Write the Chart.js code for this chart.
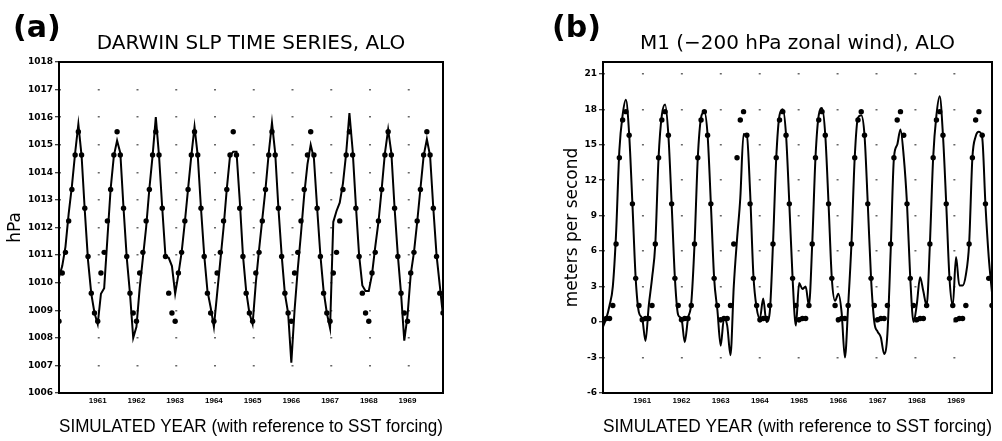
<!DOCTYPE html>
<html>
<head>
<meta charset="utf-8">
<script src="https://cdn.jsdelivr.net/npm/chart.js@4.4.1/dist/chart.umd.min.js"></script>
<style>
    body { margin: 0; background: #fff; }
    #wrap { position: relative; width: 1002px; height: 441px; overflow: hidden; }
    canvas { position: absolute; top: 0; }
    #slp-chart { left: 0; }
    #wind-chart { left: 500px; }
    .panel-tag { position: absolute; top: 12px; font: bold 30px "DejaVu Sans", sans-serif; line-height: 30px; color: #000; }
</style>
</head>
<body>
<div id="wrap">
    <canvas id="slp-chart" width="500" height="441"></canvas>
    <canvas id="wind-chart" width="502" height="441"></canvas>
    <div class="panel-tag" style="left:13px">(a)</div>
    <div class="panel-tag" style="left:552px">(b)</div>
</div>
<script>
// simulated years, one value per month (Jan..Dec)
const years = [1960, 1961, 1962, 1963, 1964, 1965, 1966, 1967, 1968, 1969];

// (a) Darwin SLP, hPa - model run
const slpModel = [
    1010.2, 1010.6, 1011.3, 1012.5, 1013.5, 1014.7, 1015.75, 1014.6, 1012.6, 1010.8, 1009.6, 1008.9,  // 1960
    1008.5, 1009.6, 1009.8, 1011.6, 1013.4, 1014.6, 1015.15, 1014.7, 1012.7, 1010.9, 1009.6, 1008.0,  // 1961
    1008.4, 1009.8, 1010.9, 1012.0, 1013.4, 1014.6, 1016.0, 1014.6, 1012.7, 1010.95, 1010.9, 1010.6,  // 1962
    1009.6, 1010.3, 1011.1, 1012.2, 1013.4, 1014.6, 1015.65, 1014.6, 1012.7, 1011.0, 1009.7, 1009.1,  // 1963
    1008.4, 1009.6, 1010.8, 1012.0, 1013.4, 1014.6, 1014.75, 1014.75, 1013.0, 1011.0, 1009.7, 1008.9, // 1964
    1008.5, 1010.0, 1011.2, 1012.3, 1013.4, 1014.7, 1015.8, 1014.7, 1012.7, 1011.0, 1009.6, 1008.9,   // 1965
    1007.1, 1009.0, 1010.5, 1011.8, 1013.2, 1014.3, 1015.0, 1014.5, 1012.7, 1011.0, 1009.7, 1008.9,   // 1966
    1008.35, 1012.2, 1012.6, 1012.9, 1013.6, 1014.7, 1016.15, 1014.8, 1012.8, 1011.0, 1009.9, 1009.7, // 1967
    1009.7, 1010.3, 1011.3, 1012.2, 1013.4, 1014.7, 1015.55, 1014.7, 1012.7, 1011.0, 1009.6, 1007.9,  // 1968
    1008.8, 1010.3, 1011.1, 1012.2, 1013.4, 1014.6, 1015.2, 1014.6, 1012.7, 1011.0, 1009.9, 1008.8    // 1969
];
// (a) observed monthly climatology (dots), repeated every year
const slpObserved = [1008.6, 1010.35, 1011.1, 1012.24, 1013.38, 1014.63, 1015.47, 1014.63, 1012.7, 1010.95, 1009.62, 1008.9];

// (b) M1 200 hPa zonal wind, m/s - model run
const windModel = [
    -0.4, 0.3, 1.4, 3.0, 7.5, 14.5, 17.5, 18.8, 15.9, 10.0, 3.7, 0.8,   // 1960
    0.3, -1.6, 1.4, 3.7, 6.6, 13.9, 17.5, 18.4, 15.8, 10.0, 3.7, 0.6,   // 1961
    0.3, -1.7, 0.3, 1.6, 6.6, 13.9, 17.3, 17.8, 15.8, 10.0, 3.7, 1.0,   // 1962
    -2.0, 0.3, -0.3, -2.8, 3.0, 7.0, 10.5, 15.9, 15.8, 11.0, 4.0, 1.2,  // 1963
    0.3, 2.0, 0.0, 0.8, 6.6, 13.9, 17.5, 18.0, 15.8, 10.0, 3.7, -0.3,   // 1964
    3.3, 2.8, 3.0, 1.4, 6.6, 13.9, 17.5, 18.1, 15.8, 10.0, 3.7, 1.8,    // 1965
    2.4, 0.8, -3.0, 1.4, 6.6, 13.9, 17.3, 17.5, 15.8, 10.0, 3.7, 0.0,   // 1966
    -0.8, -1.3, -2.7, -1.0, 6.0, 13.9, 15.0, 16.3, 14.0, 10.0, 3.7, 0.0, // 1967
    1.5, 3.8, 2.6, 1.4, 6.6, 13.9, 17.5, 19.1, 15.8, 10.0, 3.7, 1.4,    // 1968
    5.5, 3.1, 3.1, 4.0, 6.6, 13.9, 15.7, 16.1, 15.6, 9.9, 5.5, 2.5      // 1969
];
// (b) observed monthly climatology (dots)
const windObserved = [0.2, 0.3, 0.3, 1.4, 6.6, 13.9, 17.1, 17.8, 15.8, 10.0, 3.7, 1.4];

Chart.defaults.font.family = '"Liberation Sans", Arial, sans-serif';
Chart.defaults.color = '#000';

function monthlyPoints(values) {
    const points = [];
    for (let i = 0; i < values.length; i++) {
        points.push({ x: years[0] + i / 12, y: values[i] });
    }
    return points;
}

function climatologyPoints(monthly) {
    const points = [];
    for (let i = 0; i < years.length; i++) {
        for (let m = 0; m < 12; m++) {
            points.push({ x: years[i] + m / 12, y: monthly[m] });
        }
    }
    return points;
}

function makePanel(canvasId, cfg) {
    const canvas = document.getElementById(canvasId);
    if (!canvas) {
        console.error('Canvas Element was not found!');
        return null;
    }
    const ctx = canvas.getContext('2d');

    return new Chart(ctx, {
        type: 'scatter',
        data: {
            datasets: [{
                label: 'model',
                data: monthlyPoints(cfg.model),
                showLine: true,
                borderColor: '#000',
                borderWidth: 2,
                pointRadius: 0,
                tension: cfg.tension,
                cubicInterpolationMode: cfg.tension ? 'monotone' : 'default',
                fill: false,
            }, {
                label: 'observed',
                data: climatologyPoints(cfg.observed),
                showLine: false,
                pointRadius: 2.7,
                pointBackgroundColor: '#000',
                pointBorderWidth: 0,
            }]
        },
        options: {
            responsive: false,
            animation: false,
            layout: {
                padding: { left: 0, right: cfg.padRight, top: 0, bottom: 0 }
            },
            scales: {
                x: {
                    type: 'linear',
                    min: 1960,
                    max: 1969 + 11 / 12,
                    afterFit: (s) => { s.height = 48; },
                    grid: { display: false, drawTicks: false, tickLength: 0 },
                    border: { display: true, color: '#000', width: 2 },
                    ticks: {
                        stepSize: 1,
                        includeBounds: false,
                        autoSkip: false,
                        maxRotation: 0,
                        padding: 3,
                        font: { family: '"Liberation Sans"', size: 8, weight: 'bold' },
                        callback: (v) => v === 1960 ? '' : String(v)
                    },
                    title: {
                        display: true,
                        text: 'SIMULATED YEAR (with reference to SST forcing)',
                        font: { size: 19 },
                        padding: { top: 0, bottom: 3 }
                    }
                },
                y: {
                    type: 'linear',
                    min: cfg.yMin,
                    max: cfg.yMax,
                    afterFit: (s) => { s.width = cfg.yWidth; },
                    grid: {
                        color: '#666',
                        lineWidth: 1.5,
                        drawTicks: true,
                        tickLength: 4,
                        tickColor: '#000',
                        tickWidth: 1
                    },
                    border: { display: true, color: '#000', width: 2, dash: cfg.gridDash, dashOffset: 1 },
                    ticks: {
                        stepSize: cfg.yStep,
                        includeBounds: false,
                        padding: 2,
                        font: { family: '"DejaVu Sans"', size: 9, weight: 'bold' },
                        callback: (v) => String(v)
                    },
                    title: {
                        display: true,
                        text: cfg.yTitle,
                        font: { family: '"DejaVu Sans"', size: 17 },
                        padding: { top: cfg.yTitlePad, bottom: 0 }
                    }
                },
                xFrame: {
                    axis: 'x',
                    type: 'linear',
                    position: 'top',
                    min: 0,
                    max: 1,
                    afterFit: (s) => { s.height = 0; },
                    grid: { display: false, drawTicks: false, tickLength: 0 },
                    ticks: { display: false },
                    border: { display: true, color: '#000', width: 2 }
                },
                yFrame: {
                    axis: 'y',
                    type: 'linear',
                    position: 'right',
                    min: 0,
                    max: 1,
                    afterFit: (s) => { s.width = 0; },
                    grid: { display: false, drawTicks: false, tickLength: 0 },
                    ticks: { display: false },
                    border: { display: true, color: '#000', width: 2 }
                }
            },
            plugins: {
                legend: { display: false },
                tooltip: { enabled: false },
                title: {
                    display: true,
                    text: cfg.title,
                    fullSize: false,
                    font: { family: '"DejaVu Sans"', size: 20, weight: 'normal' },
                    padding: { top: 32, bottom: 6 }
                }
            }
        }
    });
}

makePanel('slp-chart', {
    title: 'DARWIN SLP TIME SERIES, ALO',
    yTitle: 'hPa',
    model: slpModel,
    observed: slpObserved,
    tension: 0,
    yMin: 1006,
    yMax: 1018,
    yStep: 1,
    yWidth: 59,
    yTitlePad: 5,
    padRight: 57,
    gridDash: [2, 36.75]
});

makePanel('wind-chart', {
    title: 'M1 (\u2212200 hPa zonal wind), ALO',
    yTitle: 'meters per second',
    model: windModel,
    observed: windObserved,
    tension: 0.3,
    yMin: -6,
    yMax: 22,
    yStep: 3,
    yWidth: 103,
    yTitlePad: 62,
    padRight: 10,
    gridDash: [2, 36.93]
});
</script>
</body>
</html>
